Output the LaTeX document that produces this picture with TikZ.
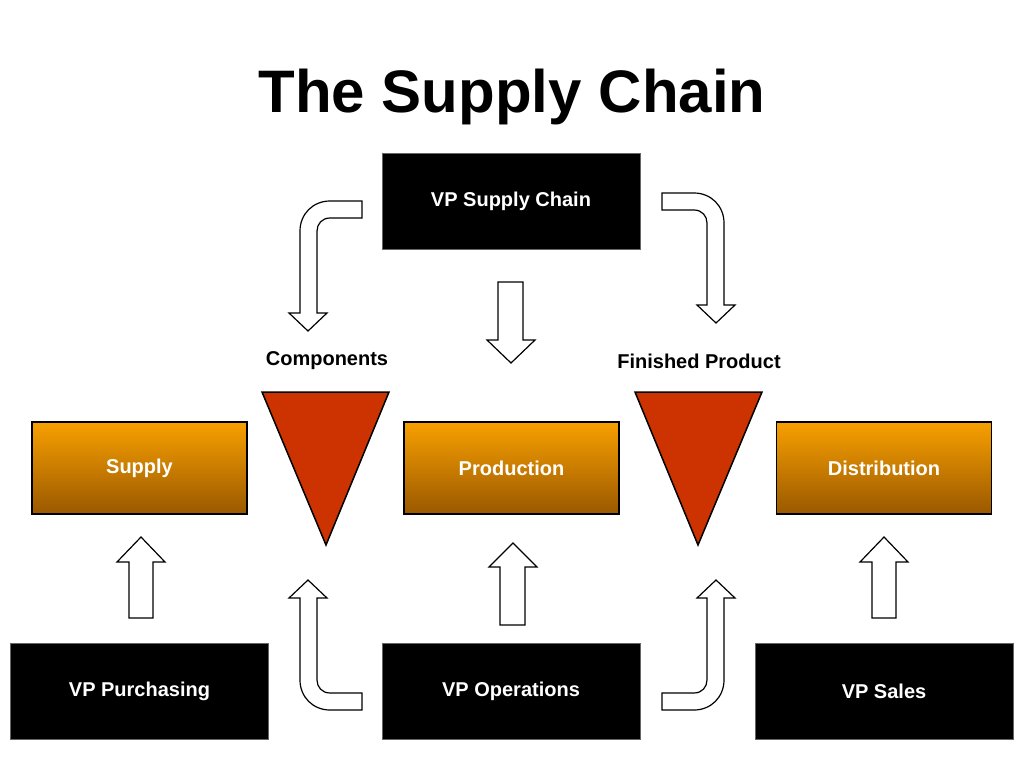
\documentclass[tikz,border=0pt]{standalone}
\usepackage{fontspec}
\setmainfont{Liberation Sans}
\begin{document}
\begin{tikzpicture}[x=1pt,y=-1pt,
  blk/.style={fill=black,draw=black!60,text=white,font=\fontsize{20}{22}\selectfont\bfseries,minimum width=258pt,minimum height=96pt,inner sep=0pt},
  org/.style={draw=black,line width=1.5pt,text=white,font=\fontsize{20}{22}\selectfont\bfseries,minimum width=215pt,minimum height=92pt,inner sep=0pt,shading=axis,top color=orange!40!black!0!,bottom color=black,shading angle=45},
  tri/.style={fill=red!60!orange!90!black,draw=black,line width=1.5pt},
  arr/.style={fill=white,draw=black,line width=1.2pt,line join=miter},
  lbl/.style={font=\fontsize{20}{22}\selectfont\bfseries}]
\useasboundingbox (0,0) rectangle (1024,768);
\definecolor{og1}{HTML}{F8A000}
\definecolor{og2}{HTML}{9A5800}
\definecolor{tr}{HTML}{CC3300}
\tikzset{org/.append style={top color=og1,bottom color=og2}, tri/.append style={fill=tr}}
\node[font=\fontsize{60}{66}\selectfont\bfseries] (title) at (512,97) {The Supply Chain};
\node[blk] (vpsc) at (511,201) {VP Supply Chain};
\node[blk] (vpp) at (139.5,691.5) {VP Purchasing};
\node[blk] (vpo) at (511,691.5) {VP Operations};
\node[blk] (vps) at (884,691.5) {VP Sales};
\node[org] (sup) at (139.5,468) {Supply};
\node[org] (pro) at (511.5,468) {Production};
\node[org] (dis) at (884,468) {Distribution};
\draw[tri] (262,392) -- (389,392) -- (326,545) -- cycle;
\draw[tri] (635,392) -- (762,392) -- (698,545) -- cycle;
\node[lbl] (comp) at (327,361) {Components};
\node[lbl] (fin) at (699,361) {Finished Product};
% bent arrows
\def\bent{(362,201) -- (330,201) .. controls (313,201) and (300,214) .. (300,231) -- (300,313) -- (289,313) -- (308,331) -- (327,313) -- (317,313) -- (317,231) .. controls (317,224) and (322,218) .. (330,218) -- (362,218) -- cycle}
\draw[arr] \bent;
\begin{scope}[shift={(1024,-8)},xscale=-1]\draw[arr] \bent;\end{scope}
\begin{scope}[shift={(0,911)},yscale=-1]\draw[arr] \bent;\end{scope}
\begin{scope}[shift={(1024,911)},xscale=-1,yscale=-1]\draw[arr] \bent;\end{scope}
% straight arrows
\draw[arr] (498,282) -- (523,282) -- (523,340) -- (535,340) -- (511,363) -- (487,340) -- (498,340) -- cycle;
\draw[arr] (500,625) -- (525,625) -- (525,567) -- (537,567) -- (513,543) -- (489,567) -- (500,567) -- cycle;
\draw[arr] (129,618) -- (153,618) -- (153,562) -- (165,562) -- (141,537) -- (117,562) -- (129,562) -- cycle;
\draw[arr] (872,618) -- (896,618) -- (896,562) -- (908,562) -- (884,537) -- (860,562) -- (872,562) -- cycle;
\end{tikzpicture}
\end{document}
